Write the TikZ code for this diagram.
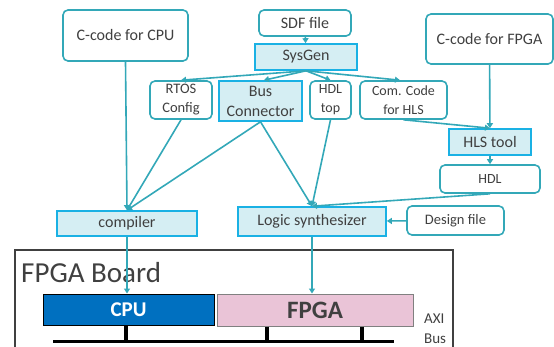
\documentclass[tikz,border=0pt]{standalone}
\usepackage{fontspec}
\setmainfont{Carlito}
\usetikzlibrary{arrows.meta}
\definecolor{flow}{HTML}{33A8B8}
\definecolor{toolfill}{HTML}{D5EEF3}
\definecolor{toolline}{HTML}{1AB1E4}
\definecolor{txt}{HTML}{404040}
\definecolor{cpublue}{HTML}{0070C0}
\definecolor{fpgapink}{HTML}{EAC4D7}
\tikzset{
  srcbox/.style={draw=flow, line width=1.6pt, rounded corners=5pt, fill=white,
    text=txt, align=center, inner sep=0pt, font=\fontsize{15}{17}\selectfont},
  toolbox/.style={draw=toolline, line width=1.6pt, fill=toolfill,
    text=txt, align=center, inner sep=0pt, font=\fontsize{16}{18}\selectfont},
  flowarrow/.style={draw=flow, line width=1.6pt, -{Triangle[length=5pt,width=6pt]}},
  stub/.style={line width=3.5pt, black},
}
\begin{document}
\begin{tikzpicture}[x=1pt, y=-1pt]
\useasboundingbox (0,0) rectangle (554,346);

% sources and intermediate files
\node[srcbox, minimum width=125pt, minimum height=51pt, font=\fontsize{16}{18}\selectfont] (ccpu) at (125.5,35.5) {C-code for CPU};
\node[srcbox, minimum width=92pt, minimum height=26pt, font=\fontsize{16}{18}\selectfont] (sdf) at (305,23) {SDF file};
\node[toolbox, minimum width=102pt, minimum height=26pt] (sysgen) at (306,57) {SysGen};
\node[srcbox, minimum width=127pt, minimum height=50pt, font=\fontsize{16}{18}\selectfont] (cfpga) at (489.5,39) {C-code for FPGA};
\node[srcbox, minimum width=62pt, minimum height=38pt, font=\fontsize{14.5}{19}\selectfont] (rtos) at (181,100) {RTOS\\Config};
\node[toolbox, minimum width=83pt, minimum height=40pt, font=\fontsize{16}{20}\selectfont] (busc) at (260.5,101) {Bus\\Connector};
\node[srcbox, minimum width=41pt, minimum height=38pt, font=\fontsize{14}{19}\selectfont] (hdltop) at (330.5,100) {HDL\\top};
\node[srcbox, minimum width=87pt, minimum height=38pt, font=\fontsize{14}{19}\selectfont] (comcode) at (403.5,100) {Com. Code\\for HLS};
\node[toolbox, minimum width=82pt, minimum height=26pt] (hls) at (490,142) {HLS tool};
\node[srcbox, minimum width=100pt, minimum height=28pt, font=\fontsize{14}{16}\selectfont] (hdl) at (490,179) {HDL};
\node[toolbox, minimum width=140pt, minimum height=25pt] (compiler) at (127,223.5) {compiler};
\node[toolbox, minimum width=148pt, minimum height=29pt] (logic) at (312,221.5) {Logic synthesizer};
\node[srcbox, minimum width=97pt, minimum height=29pt, font=\fontsize{14.5}{16}\selectfont] (design) at (455.5,220.5) {Design file};

% the board
\draw[txt, line width=1.2pt] (15,350) -- (15,250) -- (453,250) -- (453,350);
\node[anchor=base west, inner sep=0pt, text=txt, font=\fontsize{29}{30}\selectfont] (board) at (21,282) {FPGA Board};
\node[draw=black, line width=1pt, fill=cpublue, text=white, minimum width=171pt, minimum height=31pt,
  inner sep=0pt, font=\bfseries\fontsize{21}{22}\selectfont] (cpu) at (128.5,309.5) {CPU};
\node[draw=gray, line width=1pt, fill=fpgapink, text=txt, minimum width=196pt, minimum height=32pt,
  inner sep=0pt, font=\bfseries\fontsize{25}{26}\selectfont] (fpga) at (315,310) {FPGA};
\coordinate (busl) at (53,341.5);
\coordinate (busr) at (394,341.5);
\draw[stub] (busl) -- (busr);
\draw[stub] (cpu.south -| 126,0) -- (126,341.5);
\draw[stub] (fpga.south -| 267,0) -- (267,341.5);
\draw[stub] (fpga.south -| 362,0) -- (362,341.5);
\node[anchor=base west, inner sep=0pt, text=txt, font=\fontsize{15}{16}\selectfont] (axi) at (424,323) {AXI};
\node[anchor=base west, inner sep=0pt, text=txt, font=\fontsize{15}{16}\selectfont] (axibus) at (424,343) {Bus};

% tool flow
\draw[flowarrow] (sdf) -- (sysgen);
\draw[flowarrow] (sysgen.south) -- (rtos.north);
\draw[flowarrow] (sysgen.south) -- (busc.north -| 264,0);
\draw[flowarrow] (sysgen.south) -- (hdltop.north);
\draw[flowarrow] (sysgen.south) -- (comcode.north -| 400,0);
\draw[flowarrow] (cfpga) -- (hls);
\draw[flowarrow] (comcode.south) -- (hls.north);
\draw[flowarrow] (hls) -- (hdl);
\draw[flowarrow] (ccpu.south) -- (compiler.north);
\draw[flowarrow] (rtos.south) -- (compiler.north);
\draw[flowarrow] (busc.south) -- (compiler.north);
\draw[flowarrow] (busc.south) -- (logic.north);
\draw[flowarrow] (hdltop.south) -- (logic.north);
\draw[flowarrow] (hdl.south) -- (logic.north);
\draw[flowarrow] (design) -- (logic);
\draw[flowarrow] (compiler.south) -- (cpu.north -| compiler.south);
\draw[flowarrow] (logic.south) -- (fpga.north -| logic.south);
\end{tikzpicture}
\end{document}
